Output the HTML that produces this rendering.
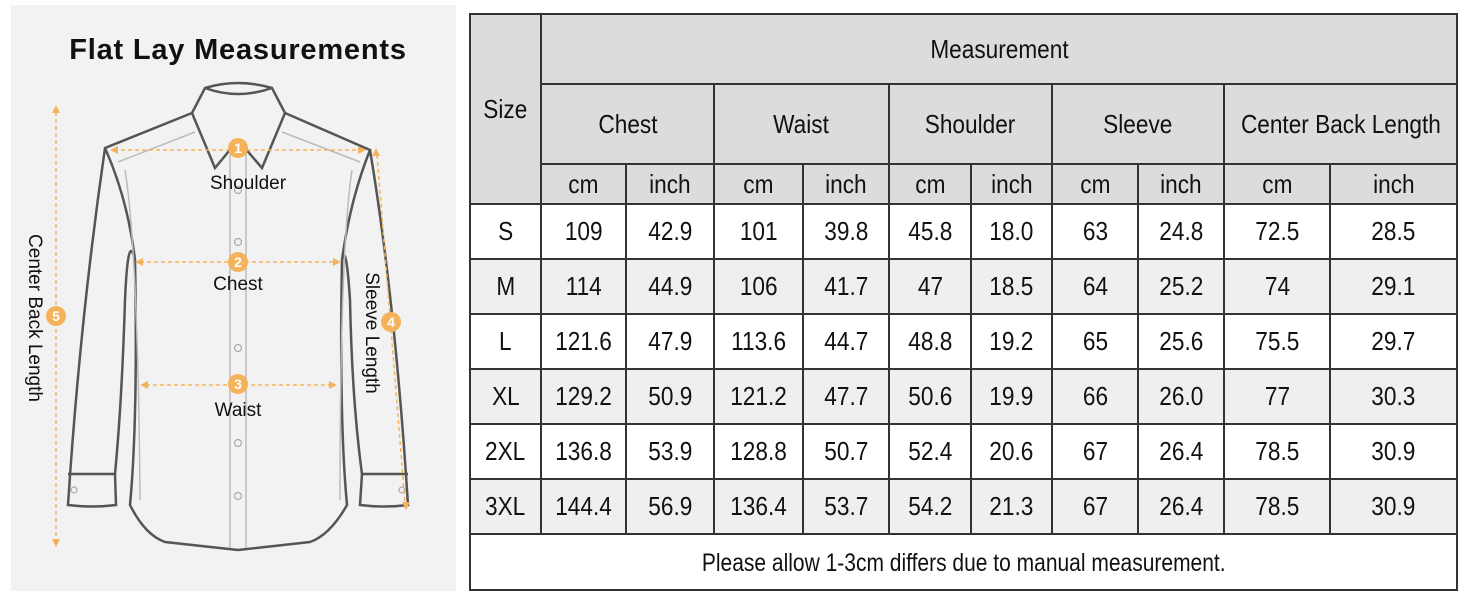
<!DOCTYPE html>
<html><head><meta charset="utf-8"><style>
body{margin:0;width:1464px;height:600px;background:#fff;overflow:hidden;position:relative;font-family:"Liberation Sans",sans-serif}
#left{position:absolute;left:0;top:0}
table{position:absolute;left:469px;top:13px;border-collapse:collapse;table-layout:fixed;font-family:"Liberation Sans",sans-serif;font-size:26px;color:#111}
td{border:2px solid #333;text-align:center;padding:0;white-space:nowrap;overflow:hidden}
td span{display:inline-block;transform:scaleX(0.87)}
.h{background:#dcdcdc}
.g{background:#efefef}
</style></head><body>
<svg id="left" width="460" height="600" xmlns="http://www.w3.org/2000/svg">
<rect x="11" y="5" width="445" height="586" fill="#f3f2f2"/>
<text x="238" y="59" text-anchor="middle" font-family="Liberation Sans" font-weight="bold" font-size="29" letter-spacing="0.8" fill="#111">Flat Lay Measurements</text>
<g fill="none" stroke="#555" stroke-width="2.5">
<path d="M192,113 L205,88 Q238,78 272,88 L285,113"/>
<path d="M205,88 Q238,100 272,88"/>
<path d="M192,113 L215,168 L238,140 L262,168 L285,113"/>
<path d="M192,113 L105,148 Q80,320 68,505 Q92,508 116,505 L115,474"/>
<path d="M68,474 L115,474"/>
<path d="M105,148 Q128,200 135,260 Q138,420 130,505 Q145,535 165,542 L238,550 L310,542 Q330,535 347,505 Q339,420 342,260 Q350,200 370,150 L285,113"/>
<path d="M115,474 Q122,400 125,300 Q128,230 135,260"/>
<path d="M370,150 Q395,300 408,505 Q385,508 360,505 L362,474 L408,474"/>
<path d="M362,474 Q352,400 350,300 Q346,240 342,260"/>
</g>
<g fill="none" stroke="#bbb" stroke-width="1.5">
<path d="M230,150 L230,548 M246,150 L246,548"/>
<path d="M118,162 L195,132 M360,162 L282,132"/>
<path d="M125,170 Q138,250 140,500 M352,170 Q340,250 340,500"/>
</g>
<g fill="none" stroke="#aaa" stroke-width="1.2">
<circle cx="238" cy="242" r="3.5"/><circle cx="238" cy="348" r="3.5"/><circle cx="238" cy="443" r="3.5"/><circle cx="238" cy="496" r="3.5"/><circle cx="238" cy="190" r="3.5"/>
<circle cx="74" cy="490" r="3"/><circle cx="402" cy="490" r="3"/>
</g>
<g stroke="#f4b35a" stroke-width="1.5" stroke-dasharray="4,3" fill="none">
<path d="M114,150 L362,150"/><path d="M140,262 L336,262"/><path d="M146,385 L332,385"/>
<path d="M56,112 L56,540"/><path d="M377,155 L405,503"/>
</g>
<g fill="#f4b35a">
<path d="M110,150 l8,-4 v8z"/><path d="M366,150 l-8,-4 v8z"/>
<path d="M135,262 l8,-4 v8z"/><path d="M341,262 l-8,-4 v8z"/>
<path d="M140,385 l8,-4 v8z"/><path d="M337,385 l-8,-4 v8z"/>
<path d="M56,105 l-4,8 h8z"/><path d="M56,547 l-4,-8 h8z"/>
<path d="M376,148 l-4,8 h8z"/><path d="M406,510 l-4,-8 h8z"/>
<circle cx="238" cy="148" r="10"/><circle cx="238" cy="262" r="10"/><circle cx="238" cy="384" r="10"/><circle cx="56" cy="316" r="10"/><circle cx="391" cy="322" r="10"/>
</g>
<g fill="#fff" font-family="Liberation Sans" font-weight="bold" font-size="14" text-anchor="middle">
<text x="238" y="153">1</text><text x="238" y="267">2</text><text x="238" y="389">3</text><text x="56" y="321">5</text><text x="391" y="327">4</text>
</g>
<g font-family="Liberation Sans" font-size="19" fill="#111" text-anchor="middle">
<text x="248" y="189">Shoulder</text><text x="238" y="290">Chest</text><text x="238" y="416">Waist</text>
<text transform="translate(29,318) rotate(90)">Center Back Length</text>
<text transform="translate(366,333) rotate(90)">Sleeve Length</text>
</g>
</svg>
<table>
<colgroup><col style="width:71px"><col style="width:85px"><col style="width:88px"><col style="width:89px"><col style="width:86px"><col style="width:82px"><col style="width:81px"><col style="width:86px"><col style="width:86px"><col style="width:106px"><col style="width:127px"></colgroup>
<tr style="height:70px"><td class="h" rowspan="3"><span>Size</span></td><td class="h" colspan="10"><span>Measurement</span></td></tr>
<tr style="height:80px"><td class="h" colspan="2"><span>Chest</span></td><td class="h" colspan="2"><span>Waist</span></td><td class="h" colspan="2"><span>Shoulder</span></td><td class="h" colspan="2"><span>Sleeve</span></td><td class="h" colspan="2"><span>Center Back Length</span></td></tr>
<tr style="height:40px" class="h"><td><span>cm</span></td><td><span>inch</span></td><td><span>cm</span></td><td><span>inch</span></td><td><span>cm</span></td><td><span>inch</span></td><td><span>cm</span></td><td><span>inch</span></td><td><span>cm</span></td><td><span>inch</span></td></tr>
<tr style="height:55px"><td><span>S</span></td><td><span>109</span></td><td><span>42.9</span></td><td><span>101</span></td><td><span>39.8</span></td><td><span>45.8</span></td><td><span>18.0</span></td><td><span>63</span></td><td><span>24.8</span></td><td><span>72.5</span></td><td><span>28.5</span></td></tr>
<tr style="height:55px" class="g"><td><span>M</span></td><td><span>114</span></td><td><span>44.9</span></td><td><span>106</span></td><td><span>41.7</span></td><td><span>47</span></td><td><span>18.5</span></td><td><span>64</span></td><td><span>25.2</span></td><td><span>74</span></td><td><span>29.1</span></td></tr>
<tr style="height:55px"><td><span>L</span></td><td><span>121.6</span></td><td><span>47.9</span></td><td><span>113.6</span></td><td><span>44.7</span></td><td><span>48.8</span></td><td><span>19.2</span></td><td><span>65</span></td><td><span>25.6</span></td><td><span>75.5</span></td><td><span>29.7</span></td></tr>
<tr style="height:55px" class="g"><td><span>XL</span></td><td><span>129.2</span></td><td><span>50.9</span></td><td><span>121.2</span></td><td><span>47.7</span></td><td><span>50.6</span></td><td><span>19.9</span></td><td><span>66</span></td><td><span>26.0</span></td><td><span>77</span></td><td><span>30.3</span></td></tr>
<tr style="height:55px"><td><span>2XL</span></td><td><span>136.8</span></td><td><span>53.9</span></td><td><span>128.8</span></td><td><span>50.7</span></td><td><span>52.4</span></td><td><span>20.6</span></td><td><span>67</span></td><td><span>26.4</span></td><td><span>78.5</span></td><td><span>30.9</span></td></tr>
<tr style="height:55px" class="g"><td><span>3XL</span></td><td><span>144.4</span></td><td><span>56.9</span></td><td><span>136.4</span></td><td><span>53.7</span></td><td><span>54.2</span></td><td><span>21.3</span></td><td><span>67</span></td><td><span>26.4</span></td><td><span>78.5</span></td><td><span>30.9</span></td></tr>
<tr style="height:56px"><td colspan="11"><span style="font-size:25px;transform:scaleX(0.84)">Please allow 1-3cm differs due to manual measurement.</span></td></tr>
</table>
</body></html>
